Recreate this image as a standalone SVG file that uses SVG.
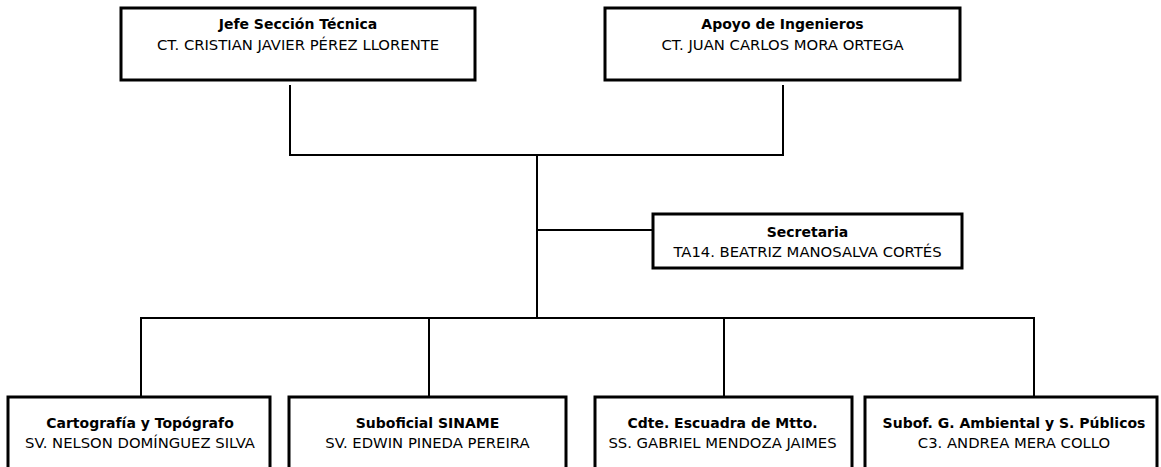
<svg xmlns="http://www.w3.org/2000/svg" width="1161" height="467" viewBox="0 0 1161 467">
<style>
.box{fill:#fff;stroke:#000;stroke-width:3}
.t{font-family:"DejaVu Sans",sans-serif;font-size:14.8px;text-anchor:middle;fill:#000}
.b{font-weight:bold;font-size:14px}
.c{fill:none;stroke:#000;stroke-width:2}
</style>
<rect width="1161" height="467" fill="#fff"/>
<g id="connectors">
<path class="c" d="M290 85V155H783V85"/>
<path class="c" d="M537 155V318"/>
<path class="c" d="M537 230H653"/>
<path class="c" d="M141 397V318H1034V397"/>
<path class="c" d="M429 318V397"/>
<path class="c" d="M724 318V397"/>
</g>
<g id="jefe">
<rect class="box" x="121" y="8" width="354" height="72"/>
<text class="t b" x="298" y="29">Jefe Sección Técnica</text>
<text class="t" x="298" y="50">CT. CRISTIAN JAVIER PÉREZ LLORENTE</text>
</g>
<g id="apoyo">
<rect class="box" x="605" y="8" width="355" height="72"/>
<text class="t b" x="782.5" y="29">Apoyo de Ingenieros</text>
<text class="t" x="782.5" y="50">CT. JUAN CARLOS MORA ORTEGA</text>
</g>
<g id="secretaria">
<rect class="box" x="653" y="214" width="309" height="54"/>
<text class="t b" x="807.5" y="237">Secretaria</text>
<text class="t" x="807.5" y="257">TA14. BEATRIZ MANOSALVA CORTÉS</text>
</g>
<g id="cartografia">
<rect class="box" x="8" y="397" width="262" height="80"/>
<text class="t b" x="140" y="428">Cartografía y Topógrafo</text>
<text class="t" x="140" y="448">SV. NELSON DOMÍNGUEZ SILVA</text>
</g>
<g id="siname">
<rect class="box" x="289" y="397" width="277" height="80"/>
<text class="t b" x="427.5" y="428">Suboficial SINAME</text>
<text class="t" x="427.5" y="448">SV. EDWIN PINEDA PEREIRA</text>
</g>
<g id="escuadra">
<rect class="box" x="595" y="397" width="257" height="80"/>
<text class="t b" x="722.5" y="428">Cdte. Escuadra de Mtto.</text>
<text class="t" x="722.5" y="448">SS. GABRIEL MENDOZA JAIMES</text>
</g>
<g id="ambiental">
<rect class="box" x="865" y="397" width="292" height="80"/>
<text class="t b" x="1014" y="428">Subof. G. Ambiental y S. Públicos</text>
<text class="t" x="1014" y="448">C3. ANDREA MERA COLLO</text>
</g>
</svg>
